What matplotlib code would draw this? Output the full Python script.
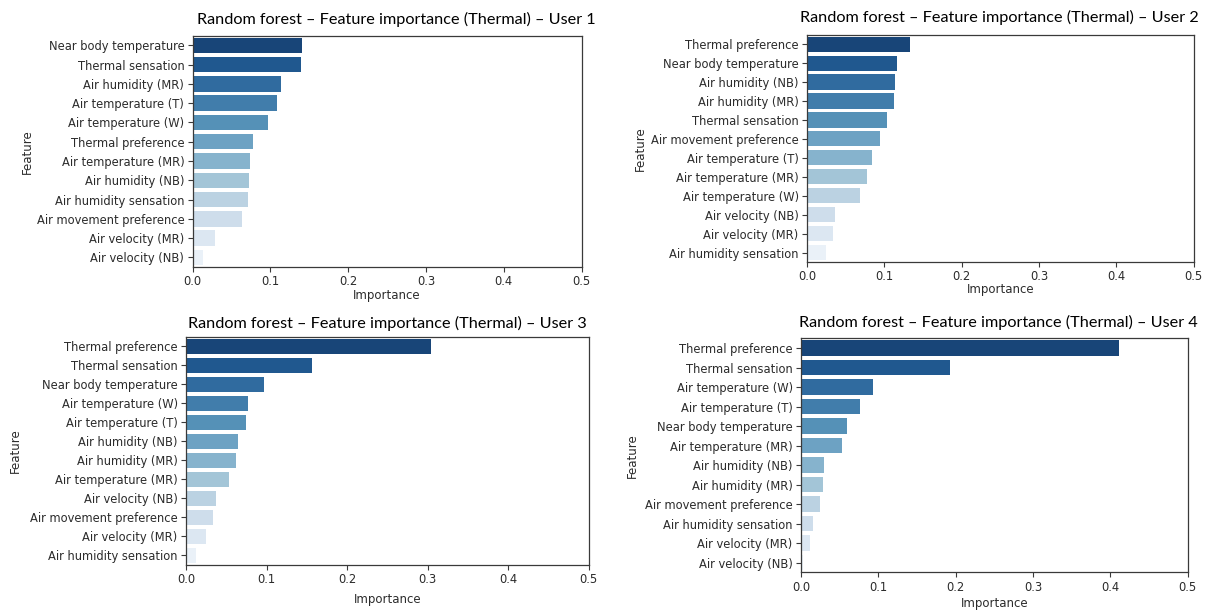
import colorsys
import numpy as np
import matplotlib
matplotlib.use("Agg")
import matplotlib.pyplot as plt

# ---- data: random forest feature importances (thermal model), per user ----
user1_features = ["Near body temperature", "Thermal sensation", "Air humidity (MR)",
                  "Air temperature (T)", "Air temperature (W)", "Thermal preference",
                  "Air temperature (MR)", "Air humidity (NB)", "Air humidity sensation",
                  "Air movement preference", "Air velocity (MR)", "Air velocity (NB)"]
user1_importance = [0.140, 0.139, 0.113, 0.109, 0.097, 0.077,
                    0.074, 0.073, 0.071, 0.063, 0.029, 0.013]

user2_features = ["Thermal preference", "Near body temperature", "Air humidity (NB)",
                  "Air humidity (MR)", "Thermal sensation", "Air movement preference",
                  "Air temperature (T)", "Air temperature (MR)", "Air temperature (W)",
                  "Air velocity (NB)", "Air velocity (MR)", "Air humidity sensation"]
user2_importance = [0.133, 0.117, 0.114, 0.112, 0.103, 0.095,
                    0.084, 0.078, 0.069, 0.036, 0.033, 0.024]

user3_features = ["Thermal preference", "Thermal sensation", "Near body temperature",
                  "Air temperature (W)", "Air temperature (T)", "Air humidity (NB)",
                  "Air humidity (MR)", "Air temperature (MR)", "Air velocity (NB)",
                  "Air movement preference", "Air velocity (MR)", "Air humidity sensation"]
user3_importance = [0.304, 0.157, 0.097, 0.077, 0.075, 0.064,
                    0.062, 0.053, 0.037, 0.034, 0.025, 0.013]

user4_features = ["Thermal preference", "Thermal sensation", "Air temperature (W)",
                  "Air temperature (T)", "Near body temperature", "Air temperature (MR)",
                  "Air humidity (NB)", "Air humidity (MR)", "Air movement preference",
                  "Air humidity sensation", "Air velocity (MR)", "Air velocity (NB)"]
user4_importance = [0.412, 0.193, 0.093, 0.076, 0.059, 0.053,
                    0.030, 0.028, 0.025, 0.015, 0.012, 0.002]

x_ticks = [0.0, 0.1, 0.2, 0.3, 0.4, 0.5]
x_tick_labels = ["0.0", "0.1", "0.2", "0.3", "0.4", "0.5"]
titles = ["Random forest \u2013 Feature importance (Thermal) \u2013 User %d" % i
          for i in range(1, 5)]

W, H = 1210, 610


def blues_palette(n, saturation=0.75):
    """Dark-to-light blues, slightly desaturated."""
    cmap = plt.get_cmap("Blues_r")
    bins = np.linspace(0, 1, n + 2)[1:-1]
    out = []
    for c in cmap(bins):
        h, l, s = colorsys.rgb_to_hls(*c[:3])
        out.append(colorsys.hls_to_rgb(h, l, s * saturation))
    return out


fig = plt.figure(figsize=(W / 100, H / 100), dpi=100)
fig.patch.set_facecolor("white")

# panel boxes in pixels: left, top, right, bottom
boxes = [(192.7, 35.7, 581.5, 267.0),
         (807.0, 34.7, 1193.7, 262.0),
         (186.0, 336.7, 588.5, 565.0),
         (801.0, 338.3, 1187.5, 572.3)]
title_pos = [(396, 19), (999, 17), (387, 323), (998, 322)]
ylabel_x = [27, 640, 15, 632]
xlabel_y = [296, 290, 600, 604]

panels = [(user1_features, user1_importance),
          (user2_features, user2_importance),
          (user3_features, user3_importance),
          (user4_features, user4_importance)]

text_col = "#2b2b2b"
spine_col = "#3a3a3a"

for k, ((feats, vals), (l, t, r, b)) in enumerate(zip(panels, boxes)):
    ax = fig.add_axes([l / W, 1 - b / H, (r - l) / W, (b - t) / H])
    colors = blues_palette(len(feats))
    y = np.arange(len(feats))
    ax.barh(y, vals, height=0.8, color=colors, edgecolor="none")
    ax.set_ylim(len(feats) - 0.5, -0.5)
    ax.set_xlim(0, 0.5)
    ax.set_yticks(y)
    ax.set_yticklabels(feats)
    ax.set_xticks(x_ticks)
    ax.set_xticklabels(x_tick_labels)
    ax.tick_params(axis="both", labelsize=8.3, colors=spine_col, labelcolor=text_col,
                   length=3.5, width=0.8, pad=2.5)
    for sp in ax.spines.values():
        sp.set_color(spine_col)
        sp.set_linewidth(0.9)
    ax.set_xlabel("Importance", fontsize=8.5, color=text_col)
    ax.set_ylabel("Feature", fontsize=8.5, color=text_col)
    ax.xaxis.set_label_coords(((l + r) / 2 - l) / (r - l), (b - xlabel_y[k]) / (b - t))
    ax.yaxis.set_label_coords((ylabel_x[k] - l) / (r - l), 0.5)
    ax.xaxis.label.set_va("center")
    ax.yaxis.label.set_va("center")

    tx, ty = title_pos[k]
    fig.text(tx / W, 1 - ty / H, titles[k], ha="center", va="center",
             fontsize=11.7, family=["Lato", "DejaVu Sans"], color="black")

fig.savefig("out.png", dpi=100, facecolor="white")
